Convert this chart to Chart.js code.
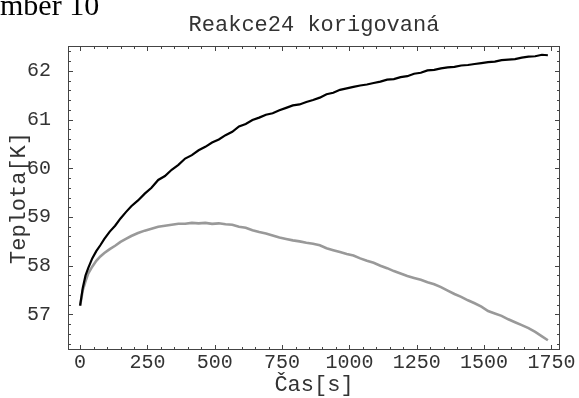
<!DOCTYPE html>
<html>
<head>
<meta charset="utf-8">
<script src="https://cdn.jsdelivr.net/npm/chart.js@4"></script>
<style>
    html, body { margin: 0; padding: 0; background: #fff; }
    #wrap { width: 579px; height: 398px; position: relative; }
</style>
</head>
<body>
<div id="wrap"><canvas id="chart" width="579" height="398"></canvas></div>
<script>
// Time axis [s], shared by both series
const timeS = [0, 10, 20, 30, 45, 60, 75, 90, 110, 130, 150, 170, 190, 215, 240, 265, 290, 315, 340, 365,
    390, 415, 440, 465, 490, 515, 540, 565, 590, 615, 640, 665, 690, 715, 740, 765, 790, 815, 840, 865,
    890, 915, 940, 965, 990, 1015, 1040, 1065, 1090, 1115, 1140, 1165, 1190, 1215, 1240, 1265, 1290, 1315, 1340, 1365,
    1390, 1415, 1440, 1465, 1490, 1515, 1540, 1565, 1590, 1615, 1640, 1665, 1690, 1715, 1737];

// Upper (black) curve [K]
const measuredK = [57.18, 57.55, 57.80, 57.95, 58.15, 58.30, 58.42, 58.55, 58.70, 58.82, 58.97, 59.10, 59.22, 59.34, 59.48, 59.60, 59.76, 59.84, 59.97, 60.07,
    60.20, 60.27, 60.37, 60.44, 60.53, 60.59, 60.68, 60.75, 60.86, 60.91, 60.99, 61.04, 61.10, 61.13, 61.19, 61.24, 61.29, 61.31, 61.36, 61.40,
    61.45, 61.52, 61.55, 61.61, 61.64, 61.67, 61.70, 61.72, 61.75, 61.78, 61.82, 61.83, 61.87, 61.89, 61.94, 61.96, 62.01, 62.02, 62.05, 62.07,
    62.08, 62.11, 62.12, 62.14, 62.16, 62.18, 62.19, 62.22, 62.23, 62.24, 62.27, 62.29, 62.30, 62.33, 62.32];

// Lower (grey) corrected curve [K]
const correctedK = [57.18, 57.50, 57.68, 57.84, 57.98, 58.10, 58.19, 58.26, 58.34, 58.41, 58.49, 58.55, 58.61, 58.67, 58.72, 58.76, 58.80, 58.82, 58.84, 58.86,
    58.86, 58.88, 58.87, 58.88, 58.86, 58.87, 58.85, 58.84, 58.80, 58.78, 58.73, 58.69, 58.66, 58.62, 58.58, 58.55, 58.52, 58.50, 58.47, 58.45,
    58.42, 58.36, 58.32, 58.28, 58.24, 58.21, 58.15, 58.10, 58.06, 58.00, 57.95, 57.89, 57.84, 57.79, 57.75, 57.71, 57.66, 57.62, 57.56, 57.49,
    57.42, 57.36, 57.29, 57.23, 57.16, 57.07, 57.02, 56.97, 56.90, 56.84, 56.78, 56.72, 56.64, 56.55, 56.47];

const xTicks = [0, 250, 500, 750, 1000, 1250, 1500, 1750];
const yTicks = [57, 58, 59, 60, 61, 62];

const monoFont = 'Liberation Mono';
const textColor = '#333';

const toPoints = (vals) => vals.map((v, i) => ({ x: timeS[i], y: v }));

// Frame with inward ticks on all four sides (Mathematica style)
const framePlugin = {
    id: 'frame',
    afterDatasetsDraw(chart) {
        const { ctx, chartArea: a, scales: { x, y } } = chart;
        ctx.save();
        ctx.strokeStyle = '#444';
        ctx.lineWidth = 1;
        ctx.strokeRect(a.left + 0.5, a.top + 0.5, a.right - a.left - 1, a.bottom - a.top - 1);

        ctx.beginPath();
        const xMark = (v, len) => {
            const px = Math.round(x.getPixelForValue(v)) + 0.5;
            ctx.moveTo(px, a.bottom); ctx.lineTo(px, a.bottom - len);
            ctx.moveTo(px, a.top); ctx.lineTo(px, a.top + len);
        };
        const yMark = (v, len) => {
            const py = Math.round(y.getPixelForValue(v)) + 0.5;
            ctx.moveTo(a.left, py); ctx.lineTo(a.left + len, py);
            ctx.moveTo(a.right, py); ctx.lineTo(a.right - len, py);
        };
        xTicks.forEach((v, i) => {
            xMark(v, 5);
            if (i < xTicks.length - 1) {
                const step = (xTicks[i + 1] - v) / 5;
                for (let k = 1; k < 5; k++) xMark(v + k * step, 3);
            }
        });
        yTicks.forEach(v => yMark(v, 5));
        const yStep = (yTicks[1] - yTicks[0]) / 5;
        for (let v = yTicks[0] - yStep; v > y.min; v -= yStep) yMark(v, 3);
        yTicks.forEach(v => {
            for (let k = 1; k < 5; k++) {
                const m = v + k * yStep;
                if (m < y.max) yMark(m, 3);
            }
        });
        ctx.stroke();
        ctx.restore();
    },
    afterDraw(chart) {
        // page header text cut off at the top of the original
        const ctx = chart.ctx;
        ctx.save();
        ctx.font = '30px "Liberation Serif"';
        ctx.fillStyle = '#000';
        ctx.textBaseline = 'alphabetic';
        ctx.fillText('mber 10', 0, 15);
        ctx.restore();
    }
};

new Chart(document.getElementById('chart'), {
    type: 'line',
    data: {
        datasets: [
            {
                label: 'Teplota',
                data: toPoints(measuredK),
                borderColor: '#000',
                borderWidth: 2.2,
                pointRadius: 0,
                tension: 0,
                fill: false
            },
            {
                label: 'Teplota korigovaná',
                data: toPoints(correctedK),
                borderColor: '#999',
                borderWidth: 2.6,
                pointRadius: 0,
                tension: 0,
                fill: false
            }
        ]
    },
    options: {
        responsive: false,
        animation: false,
        devicePixelRatio: 1,
        layout: { padding: { top: 0, left: 0, bottom: 0, right: 19 } },
        plugins: {
            legend: { display: false },
            tooltip: { enabled: false },
            title: {
                display: true,
                text: 'Reakce24 korigovaná',
                fullSize: false,
                color: textColor,
                font: { family: monoFont, size: 22, weight: 'normal' },
                padding: { top: 12, bottom: 7.6 }
            }
        },
        scales: {
            x: {
                type: 'linear',
                min: -45,
                max: 1782,
                grid: { display: false, drawTicks: false },
                border: { display: false },
                afterBuildTicks: s => { s.ticks = xTicks.map(v => ({ value: v })); },
                afterFit: s => { s.height = 48; s.paddingLeft = 0; s.paddingRight = 0; },
                ticks: {
                    padding: 1,
                    autoSkip: false,
                    maxRotation: 0,
                    color: textColor,
                    font: { family: monoFont, size: 20 },
                    callback: v => String(v)
                },
                title: {
                    display: true,
                    text: 'Čas[s]',
                    color: textColor,
                    font: { family: monoFont, size: 22 },
                    padding: { top: 1, bottom: 0 }
                }
            },
            y: {
                type: 'linear',
                min: 56.27,
                max: 62.51,
                grid: { display: false, drawTicks: false },
                border: { display: false },
                afterBuildTicks: s => { s.ticks = yTicks.map(v => ({ value: v })); },
                afterFit: s => { s.width = 68; s.paddingTop = 0; s.paddingBottom = 0; },
                ticks: {
                    padding: 17,
                    color: textColor,
                    font: { family: monoFont, size: 20 },
                    callback: v => String(v)
                },
                title: {
                    display: true,
                    text: 'Teplota[K]',
                    color: textColor,
                    font: { family: monoFont, size: 22 },
                    padding: { top: 6, bottom: 0 }
                }
            }
        }
    },
    plugins: [framePlugin]
});
</script>
</body>
</html>
